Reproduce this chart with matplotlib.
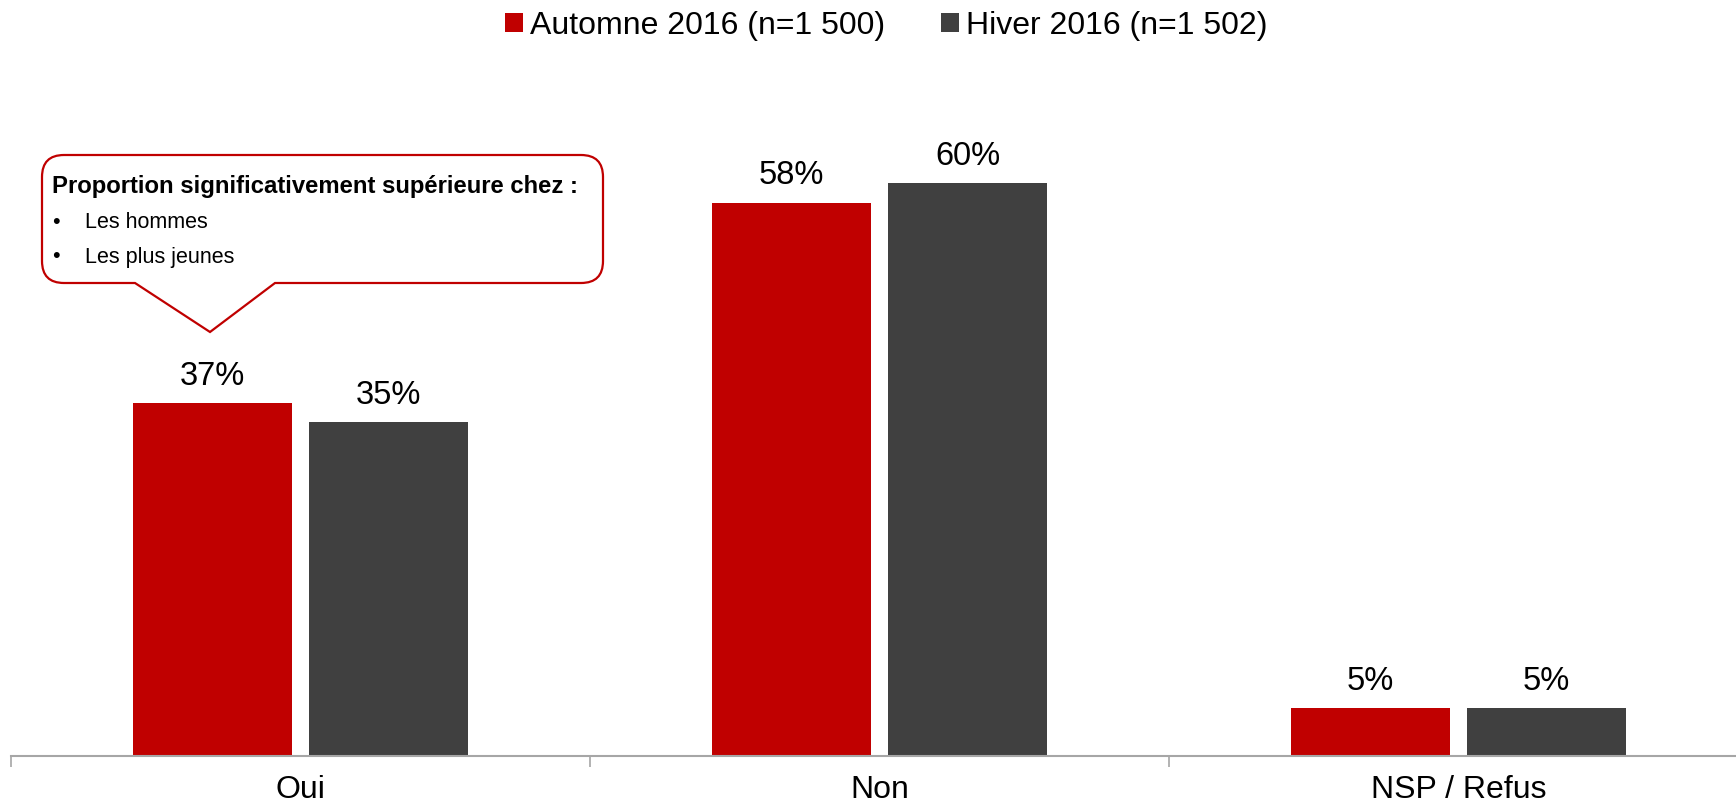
import numpy as np
import matplotlib
matplotlib.use('Agg')
from matplotlib import pyplot as plt
from matplotlib.path import Path
from matplotlib.patches import PathPatch
from matplotlib.transforms import IdentityTransform

plt.rcParams['font.family'] = ['Liberation Sans', 'DejaVu Sans']

categories = ['Oui', 'Non', 'NSP / Refus']
automne = [37, 58, 5]
hiver = [35, 60, 5]
series_names = ['Automne 2016 (n=1 500)', 'Hiver 2016 (n=1 502)']
callout_title = 'Proportion significativement supérieure chez :'
callout_items = ['Les hommes', 'Les plus jeunes']

W, H = 1736, 809
fig = plt.figure(figsize=(W / 100, H / 100), dpi=100)
ax = fig.add_axes([11 / W, 53 / H, 1737 / W, 668 / H])

x = np.arange(len(categories)) + 0.5
w = 0.276
off = 0.152
b1 = ax.bar(x - off, automne, w, color='#C00000', label=series_names[0])
b2 = ax.bar(x + off, hiver, w, color='#404040', label=series_names[1])

for bars, vals in [(b1, automne), (b2, hiver)]:
    for r, v in zip(bars, vals):
        ax.annotate(f'{v}%', (r.get_x() + r.get_width() / 2, v), xytext=(0, 8),
                    textcoords='offset points', ha='center', va='bottom', fontsize=23.5)

ax.set_xlim(0, 3)
ax.set_ylim(0, 70)
ax.set_xticks([0, 1, 2, 3])
ax.set_xticklabels([])
ax.set_xticks(x, minor=True)
ax.set_xticklabels(categories, minor=True, fontsize=23)
ax.tick_params(axis='x', which='minor', length=0, pad=14)
ax.tick_params(axis='x', which='major', length=8, color='#A6A6A6', width=1.2)
ax.set_yticks([])
for s in ['top', 'right', 'left']:
    ax.spines[s].set_visible(False)
ax.spines['bottom'].set_color('#A6A6A6')
ax.spines['bottom'].set_linewidth(1.5)

fig.legend(loc='center', bbox_to_anchor=(0.5105, 1 - 26 / H), ncol=2, frameon=False,
           fontsize=23, handlelength=0.55, handleheight=0.55, handletextpad=0.22,
           columnspacing=1.75, borderaxespad=0)

# callout bubble (pixel coords, image y downward)
def yy(v):
    return H - v

x0, x1, y0, y1, r = 42, 603, 155, 283, 22
px0, px1, tipx, tipy = 135, 275, 210, 332
verts = [(x0 + r, y0), (x1 - r, y0), (x1, y0), (x1, y0 + r), (x1, y1 - r), (x1, y1),
         (x1 - r, y1), (px1, y1), (tipx, tipy), (px0, y1), (x0 + r, y1), (x0, y1),
         (x0, y1 - r), (x0, y0 + r), (x0, y0), (x0 + r, y0), (x0 + r, y0)]
codes = [Path.MOVETO, Path.LINETO, Path.CURVE3, Path.CURVE3, Path.LINETO, Path.CURVE3,
         Path.CURVE3, Path.LINETO, Path.LINETO, Path.LINETO, Path.LINETO, Path.CURVE3,
         Path.CURVE3, Path.LINETO, Path.CURVE3, Path.CURVE3, Path.CLOSEPOLY]
verts = [(a, yy(b)) for a, b in verts]
patch = PathPatch(Path(verts, codes), facecolor='white', edgecolor='#C00000', lw=1.6,
                  transform=IdentityTransform())
fig.patches.append(patch)

fig.text(52 / W, 1 - 186 / H, callout_title, fontsize=17.2, fontweight='bold', va='center')
for i, item in enumerate(callout_items):
    yv = 1 - (222 + 35 * i) / H
    fig.text(52 / W, yv, '•', fontsize=15.5, va='center')
    fig.text(85 / W, yv, item, fontsize=15.5, va='center')

fig.savefig('out.png', dpi=100)
